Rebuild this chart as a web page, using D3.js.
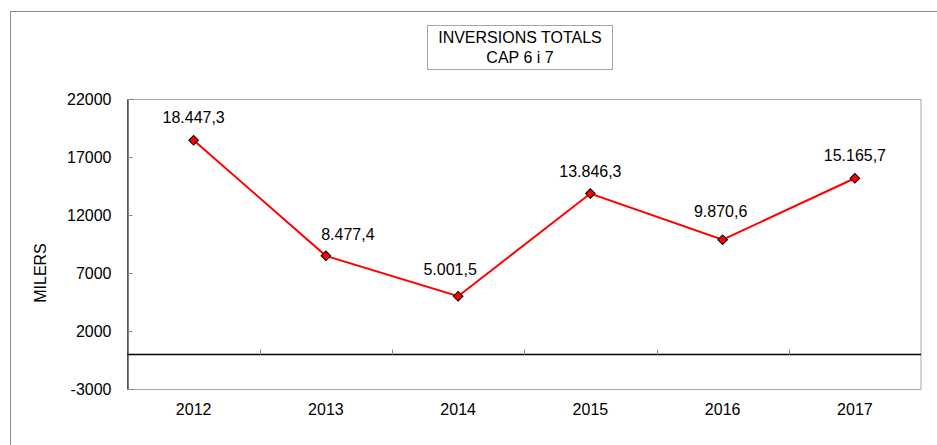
<!DOCTYPE html>
<html>
<head>
<meta charset="utf-8">
<script src="https://cdn.jsdelivr.net/npm/d3@7"></script>
<style>
  body { margin: 0; background: #fff; }
  svg { display: block; font-family: "Liberation Sans", Arial, sans-serif; }
</style>
</head>
<body>
<div id="chart"></div>
<script>
// Chart data
const years = ["2012", "2013", "2014", "2015", "2016", "2017"];
const totals = [18447.3, 8477.4, 5001.5, 13846.3, 9870.6, 15165.7];
const yTicks = [-3000, 2000, 7000, 12000, 17000, 22000];
const titleLines = ["INVERSIONS TOTALS", "CAP 6 i 7"];
const yLabel = "MILERS";

// Data labels were hand-moved in the original; nudges relative to the point
const labelDx = [0, 22, -8, 0, -2, 0];
const labelDy = [-17, -16, -21, -17, -23, -17];

// Dimensions
const width = 937;
const height = 445;
const marginTop = 99;
const marginRight = 16;
const marginBottom = 56;
const marginLeft = 127.5;

const svg = d3.select("#chart")
    .append("svg")
    .attr("width", width)
    .attr("height", height)
    .attr("viewBox", [0, 0, width, height]);

// Outer chart border (runs past right/bottom edge)
svg.append("rect")
    .attr("x", 10.5)
    .attr("y", 11.5)
    .attr("width", 940)
    .attr("height", 440)
    .attr("fill", "none")
    .attr("stroke", "#8c8c8c");

// Scales
const x = d3.scaleBand()
    .domain(years)
    .range([marginLeft, width - marginRight]);

const y = d3.scaleLinear()
    .domain([-3000, 22000])
    .range([height - marginBottom, marginTop]);

// Plot area border (gray), left axis drawn black later
svg.append("rect")
    .attr("x", marginLeft)
    .attr("y", Math.round(y(22000)) + 0.5)
    .attr("width", width - marginRight - marginLeft)
    .attr("height", y(-3000) - y(22000))
    .attr("fill", "none")
    .attr("stroke", "#a6a6a6");

// Y axis (ticks point inward, plain hyphen for negatives)
const yAxis = svg.append("g")
    .attr("transform", `translate(${marginLeft},0)`)
    .call(d3.axisRight(y).tickValues(yTicks).tickSize(5).tickFormat(d => String(d)));
yAxis.select(".domain").attr("stroke", "#000");
yAxis.selectAll(".tick line").attr("stroke", "#8c8c8c");
yAxis.selectAll(".tick text")
    .attr("x", -16)
    .attr("text-anchor", "end")
    .attr("fill", "#000")
    .attr("font-size", 16)
    .attr("font-family", "Liberation Sans, Arial, sans-serif");

// Zero line with category boundary ticks
const y0 = Math.round(y(0)) + 0.5;
svg.append("line")
    .attr("x1", marginLeft)
    .attr("x2", width - marginRight)
    .attr("y1", y0)
    .attr("y2", y0)
    .attr("stroke", "#000")
    .attr("stroke-width", 1.3);

svg.append("g")
    .selectAll("line")
    .data(years.slice(1))
    .join("line")
    .attr("x1", d => Math.round(x(d)) + 0.5)
    .attr("x2", d => Math.round(x(d)) + 0.5)
    .attr("y1", y0)
    .attr("y2", y0 - 5)
    .attr("stroke", "#8c8c8c");

// Category labels
svg.append("g")
    .selectAll("text")
    .data(years)
    .join("text")
    .attr("x", d => x(d) + x.bandwidth() / 2)
    .attr("y", 415)
    .attr("text-anchor", "middle")
    .attr("font-size", 16)
    .text(d => d);

// Y axis title
svg.append("text")
    .attr("transform", `translate(46,273) rotate(-90)`)
    .attr("text-anchor", "middle")
    .attr("font-size", 16)
    .text(yLabel);

// Line
const line = d3.line()
    .x((d, i) => x(years[i]) + x.bandwidth() / 2)
    .y(d => y(d));

svg.append("path")
    .datum(totals)
    .attr("fill", "none")
    .attr("stroke", "#ff0000")
    .attr("stroke-width", 2)
    .attr("d", line);

// Markers (diamonds)
svg.append("g")
    .selectAll("path")
    .data(totals)
    .join("path")
    .attr("d", d3.symbol(d3.symbolSquare, 46))
    .attr("transform", (d, i) => `translate(${x(years[i]) + x.bandwidth() / 2},${y(d)}) rotate(45)`)
    .attr("fill", "#ff0000")
    .attr("stroke", "#000")
    .attr("stroke-width", 1);

// Data labels
const fmt = v => v.toFixed(1).replace(".", ",").replace(/\B(?=(\d{3})+(?!\d))/, ".");
svg.append("g")
    .selectAll("text")
    .data(totals)
    .join("text")
    .attr("x", (d, i) => x(years[i]) + x.bandwidth() / 2 + labelDx[i])
    .attr("y", (d, i) => y(d) + labelDy[i])
    .attr("text-anchor", "middle")
    .attr("font-size", 16)
    .text(d => fmt(d));

// Title box
const title = svg.append("g");
title.append("rect")
    .attr("x", 427.5)
    .attr("y", 25.5)
    .attr("width", 185)
    .attr("height", 44)
    .attr("fill", "#fff")
    .attr("stroke", "#a6a6a6");
title.selectAll("text")
    .data(titleLines)
    .join("text")
    .attr("x", 520)
    .attr("y", (d, i) => 43 + i * 20)
    .attr("text-anchor", "middle")
    .attr("font-size", 16)
    .text(d => d);
</script>
</body>
</html>
